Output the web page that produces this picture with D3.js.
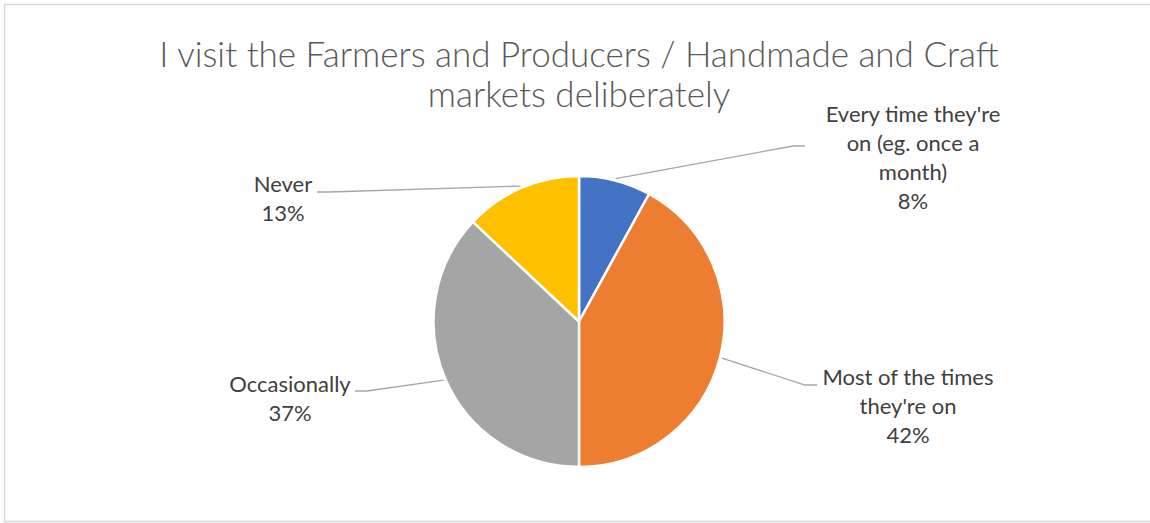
<!DOCTYPE html>
<html>
<head>
<meta charset="utf-8">
<script src="https://cdn.jsdelivr.net/npm/d3@7"></script>
<style>
  html, body { margin: 0; padding: 0; background: #fff; }
  svg { display: block; }
</style>
</head>
<body>
<svg id="chart" width="1150" height="523"></svg>
<script>
// Survey answers, in clockwise order starting from 12 o'clock
const categories = [
  "Every time they're on (eg. once a month)",
  "Most of the times they're on",
  "Occasionally",
  "Never"
];
const values = [8, 42, 37, 13];
const labelLines = [
  ["Every time they're", "on (eg. once a", "month)"],
  ["Most of the times", "they're on"],
  ["Occasionally"],
  ["Never"]
];
const colors = ["#4472C4", "#ED7D31", "#A5A5A5", "#FFC000"];
const titleLines = [
  "I visit the Farmers and Producers / Handmade and Craft",
  "markets deliberately"
];

// Label block placement: centre x, first baseline, leader end point and side
const labelLayout = [
  { cx: 913, y0: 122, lx: 805, ly: 146, side: "right" },
  { cx: 908, y0: 385, lx: 817, ly: 385, side: "right" },
  { cx: 290, y0: 392, lx: 355, ly: 391, side: "left" },
  { cx: 283, y0: 192, lx: 317, ly: 192, side: "left" }
];

const W = 1150, H = 523;
const cx = 579, cy = 321.5, R = 145.5;
const lineGap = 29;
const font = "Lato, 'Open Sans', sans-serif";

const svg = d3.select("#chart");

// chart area border
svg.append("rect")
  .attr("x", 4.5).attr("y", 4.5)
  .attr("width", W + 10).attr("height", 517)
  .attr("fill", "#fff")
  .attr("stroke", "#d9d9d9")
  .attr("stroke-width", 1.5);

// title
const title = svg.append("g");
titleLines.forEach((t, i) => {
  title.append("text")
    .attr("x", cx)
    .attr("y", 67 + i * 40)
    .attr("text-anchor", "middle")
    .attr("font-family", font)
    .attr("font-weight", 300)
    .attr("font-size", 35)
    .attr("fill", "#595959")
    .text(t);
});

// pie
const pie = d3.pie().value(d => d).sort(null);
const arcs = pie(values);
const arc = d3.arc().innerRadius(0).outerRadius(R);

const g = svg.append("g").attr("transform", `translate(${cx},${cy})`);
g.selectAll("path.slice")
  .data(arcs)
  .join("path")
  .attr("class", "slice")
  .attr("d", arc)
  .attr("fill", (d, i) => colors[i])
  .attr("stroke", "#fff")
  .attr("stroke-width", 2.5)
  .attr("stroke-linejoin", "round");

// leader lines from each slice's mid-angle to its label
svg.append("g").selectAll("polyline")
  .data(arcs)
  .join("polyline")
  .attr("fill", "none")
  .attr("stroke", "#a6a6a6")
  .attr("stroke-width", 1.3)
  .attr("points", (d, i) => {
    const L = labelLayout[i];
    const mid = (d.startAngle + d.endAngle) / 2;
    const sx = cx + (R + 2) * Math.sin(mid);
    const sy = cy - (R + 2) * Math.cos(mid);
    const ex = L.side === "right" ? L.lx - 12 : L.lx + 12;
    return [[sx, sy], [ex, L.ly], [L.lx, L.ly]].map(p => p.join(",")).join(" ");
  });

// data labels: category name followed by percentage
const labels = svg.append("g");
arcs.forEach((d, i) => {
  const L = labelLayout[i];
  const lines = labelLines[i].concat([d3.format(".0%")(values[i] / d3.sum(values))]);
  const t = labels.append("text")
    .attr("text-anchor", "middle")
    .attr("font-family", font)
    .attr("font-size", 22)
    .attr("fill", "#404040");
  lines.forEach((s, j) => {
    t.append("tspan")
      .attr("x", L.cx)
      .attr("y", L.y0 + j * lineGap)
      .text(s);
  });
});
</script>
</body>
</html>
